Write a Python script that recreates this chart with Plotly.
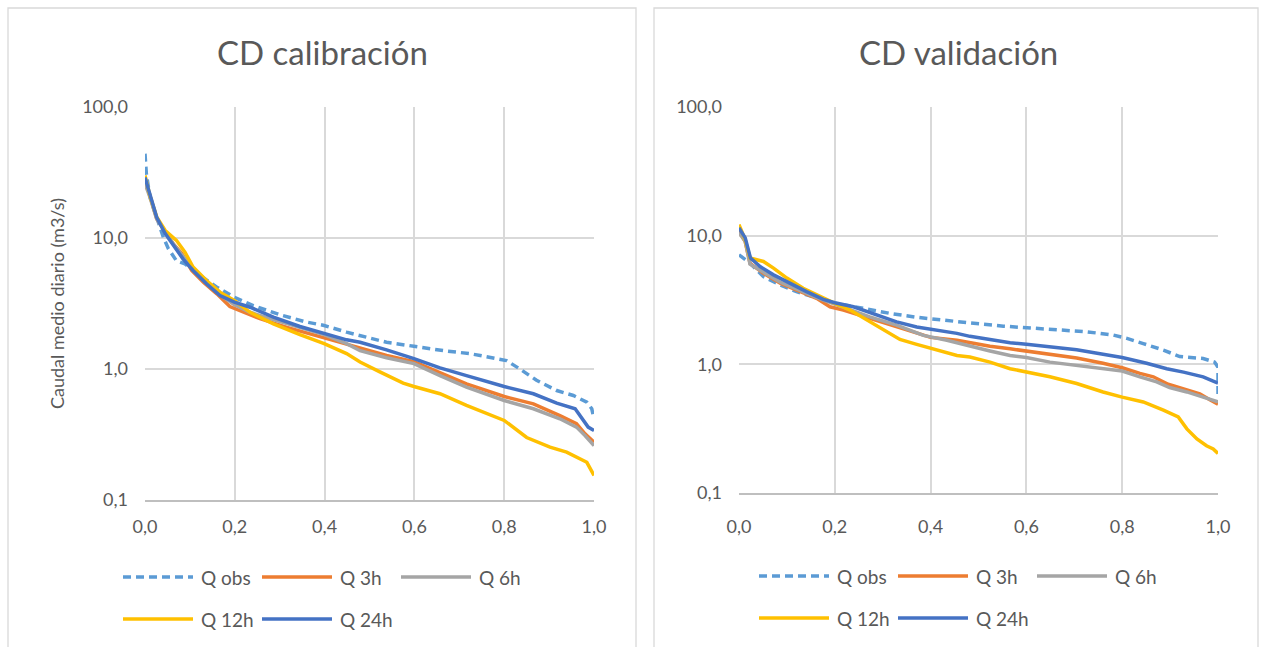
import plotly.graph_objects as go

# ---------------- data ----------------
series_names = ["Q obs", "Q 3h", "Q 6h", "Q 12h", "Q 24h"]

# CD calibración
cal_obs_p = [0.0, 0.003, 0.011, 0.026, 0.041, 0.052, 0.070, 0.089, 0.107, 0.160, 0.199, 0.241, 0.301, 0.360, 0.399, 0.449, 0.501, 0.538, 0.599, 0.665, 0.724, 0.776, 0.805, 0.835, 0.872, 0.917, 0.954, 0.984, 0.995, 1.0]
cal_obs_q = [44, 31, 20.5, 14.4, 10.1, 8.3, 6.7, 6.35, 5.65, 4.21, 3.53, 3.05, 2.59, 2.28, 2.15, 1.91, 1.73, 1.60, 1.49, 1.38, 1.31, 1.22, 1.16, 1.0, 0.82, 0.685, 0.628, 0.558, 0.497, 0.417]

cal_3h_p = [0.0, 0.011, 0.026, 0.045, 0.063, 0.082, 0.104, 0.130, 0.160, 0.189, 0.212, 0.256, 0.316, 0.375, 0.434, 0.479, 0.538, 0.599, 0.657, 0.716, 0.80, 0.865, 0.924, 0.961, 0.98, 1.0]
cal_3h_q = [27, 21, 14, 11.1, 9.0, 7.6, 5.65, 4.6, 3.75, 3.0, 2.8, 2.42, 2.08, 1.82, 1.60, 1.43, 1.27, 1.14, 0.946, 0.77, 0.617, 0.542, 0.44, 0.382, 0.32, 0.276]

cal_6h_p = [0.0, 0.011, 0.026, 0.045, 0.063, 0.085, 0.107, 0.137, 0.167, 0.199, 0.234, 0.286, 0.345, 0.399, 0.449, 0.479, 0.538, 0.599, 0.657, 0.716, 0.80, 0.865, 0.924, 0.961, 0.98, 1.0]
cal_6h_q = [26, 20.5, 14, 11, 9.0, 7.2, 5.8, 4.55, 3.7, 3.1, 2.71, 2.38, 2.08, 1.83, 1.56, 1.38, 1.22, 1.10, 0.89, 0.726, 0.575, 0.497, 0.417, 0.36, 0.31, 0.26]

cal_12h_p = [0.0, 0.011, 0.026, 0.045, 0.07, 0.089, 0.107, 0.137, 0.167, 0.199, 0.234, 0.286, 0.345, 0.399, 0.449, 0.479, 0.523, 0.575, 0.599, 0.657, 0.716, 0.80, 0.85, 0.902, 0.939, 0.984, 1.0]
cal_12h_q = [30, 21, 14.5, 11.4, 9.6, 7.8, 6.0, 4.74, 3.86, 3.33, 2.71, 2.21, 1.83, 1.56, 1.31, 1.13, 0.95, 0.78, 0.735, 0.647, 0.527, 0.405, 0.30, 0.253, 0.232, 0.194, 0.154]

cal_24h_p = [0.0, 0.011, 0.026, 0.045, 0.063, 0.085, 0.107, 0.137, 0.167, 0.199, 0.234, 0.286, 0.345, 0.399, 0.449, 0.479, 0.538, 0.599, 0.657, 0.716, 0.80, 0.865, 0.917, 0.958, 0.975, 0.987, 1.0]
cal_24h_q = [29, 21.7, 14.4, 10.8, 8.8, 6.9, 5.65, 4.47, 3.64, 3.24, 2.96, 2.49, 2.11, 1.86, 1.67, 1.60, 1.40, 1.20, 1.02, 0.89, 0.735, 0.647, 0.548, 0.497, 0.405, 0.36, 0.34]

# CD validación
val_obs_p = [0.0, 0.023, 0.051, 0.086, 0.12, 0.155, 0.2, 0.26, 0.315, 0.371, 0.434, 0.482, 0.552, 0.60, 0.663, 0.726, 0.781, 0.81, 0.844, 0.886, 0.92, 0.969, 0.993, 1.0, 1.0]
val_obs_q = [7.1, 6.1, 4.8, 4.14, 3.67, 3.36, 2.98, 2.72, 2.49, 2.32, 2.21, 2.10, 1.98, 1.92, 1.84, 1.79, 1.69, 1.59, 1.45, 1.29, 1.15, 1.11, 1.04, 0.95, 0.54]

val_3h_p = [0.0, 0.013, 0.023, 0.051, 0.086, 0.12, 0.162, 0.19, 0.218, 0.273, 0.329, 0.371, 0.40, 0.455, 0.482, 0.524, 0.566, 0.60, 0.649, 0.705, 0.76, 0.80, 0.837, 0.865, 0.896, 0.928, 0.962, 0.983, 1.0]
val_3h_q = [10.8, 9.0, 6.1, 5.1, 4.27, 3.78, 3.26, 2.8, 2.64, 2.28, 1.95, 1.74, 1.62, 1.54, 1.47, 1.38, 1.32, 1.27, 1.20, 1.12, 1.02, 0.94, 0.85, 0.80, 0.70, 0.645, 0.59, 0.53, 0.49]

val_6h_p = [0.0, 0.013, 0.023, 0.051, 0.086, 0.12, 0.162, 0.2, 0.273, 0.329, 0.385, 0.434, 0.482, 0.524, 0.566, 0.60, 0.649, 0.705, 0.76, 0.80, 0.837, 0.872, 0.899, 0.935, 0.969, 1.0]
val_6h_q = [10.6, 9.0, 6.0, 5.2, 4.35, 3.85, 3.3, 2.94, 2.34, 2.02, 1.68, 1.54, 1.38, 1.27, 1.17, 1.13, 1.04, 0.98, 0.935, 0.887, 0.80, 0.73, 0.66, 0.61, 0.556, 0.51]

val_12h_p = [0.0, 0.013, 0.023, 0.051, 0.072, 0.10, 0.134, 0.169, 0.2, 0.232, 0.273, 0.308, 0.336, 0.371, 0.40, 0.455, 0.482, 0.524, 0.566, 0.60, 0.649, 0.705, 0.76, 0.80, 0.844, 0.886, 0.917, 0.935, 0.956, 0.976, 0.99, 1.0]
val_12h_q = [12.2, 9.3, 6.7, 6.3, 5.6, 4.68, 3.9, 3.36, 2.98, 2.64, 2.14, 1.79, 1.56, 1.43, 1.33, 1.17, 1.14, 1.04, 0.925, 0.87, 0.80, 0.71, 0.61, 0.556, 0.51, 0.44, 0.39, 0.315, 0.263, 0.233, 0.22, 0.203]

val_24h_p = [0.0, 0.013, 0.024, 0.044, 0.072, 0.106, 0.141, 0.176, 0.2, 0.239, 0.28, 0.329, 0.371, 0.40, 0.455, 0.482, 0.524, 0.566, 0.60, 0.649, 0.705, 0.76, 0.80, 0.851, 0.893, 0.928, 0.969, 0.99, 1.0]
val_24h_q = [11.5, 9.6, 6.7, 5.75, 4.96, 4.27, 3.67, 3.2, 3.01, 2.8, 2.46, 2.14, 1.95, 1.88, 1.74, 1.65, 1.56, 1.47, 1.43, 1.36, 1.30, 1.20, 1.13, 1.02, 0.925, 0.87, 0.80, 0.74, 0.715]

x_tick_vals = [0.0, 0.2, 0.4, 0.6, 0.8, 1.0]
y_tick_vals = [0.1, 1, 10, 100]
panel_titles = ["CD calibración", "CD validación"]
y_title = "Caudal medio diario (m3/s)"

# ---------------- styling ----------------
W, H = 1263, 647
FONT = "Lato"
TXT = "#595959"
GRID = "#d9d9d9"
colors = ["#5B9BD5", "#ED7D31", "#A5A5A5", "#FFC000", "#4472C4"]
dashes = ["8px,5px", "solid", "solid", "solid", "solid"]
LW = 3.5


def fx(px):
    return px / W


def fy(py):
    return 1 - py / H


fig = go.Figure()

cal = [(cal_obs_p, cal_obs_q), (cal_3h_p, cal_3h_q), (cal_6h_p, cal_6h_q),
       (cal_12h_p, cal_12h_q), (cal_24h_p, cal_24h_q)]
val = [(val_obs_p, val_obs_q), (val_3h_p, val_3h_q), (val_6h_p, val_6h_q),
       (val_12h_p, val_12h_q), (val_24h_p, val_24h_q)]

for (px_, qy_), name, c, d in zip(cal, series_names, colors, dashes):
    fig.add_trace(go.Scatter(x=px_, y=qy_, mode="lines", name=name,
                             line=dict(color=c, width=LW, dash=d),
                             xaxis="x", yaxis="y", showlegend=False))
for (px_, qy_), name, c, d in zip(val, series_names, colors, dashes):
    fig.add_trace(go.Scatter(x=px_, y=qy_, mode="lines", name=name,
                             line=dict(color=c, width=LW, dash=d),
                             xaxis="x2", yaxis="y2", showlegend=False))

xcommon = dict(range=[0, 1], tickvals=x_tick_vals, tickformat=".1f",
               showgrid=True, gridcolor=GRID, gridwidth=1.5, zeroline=False,
               showline=True, linecolor="#bfbfbf", linewidth=1.5,
               ticks="", automargin=False,
               tickfont=dict(family=FONT, size=18, color=TXT))
ycommon = dict(type="log", range=[-1, 2], tickvals=y_tick_vals, tickformat=".1f",
               showgrid=True, gridcolor=GRID, gridwidth=1.5, zeroline=False,
               showline=False, ticks="", ticklabelstandoff=16, automargin=False,
               tickfont=dict(family=FONT, size=18, color=TXT))

fig.update_layout(
    width=W, height=H,
    margin=dict(l=0, r=0, t=0, b=0, pad=0, autoexpand=False),
    paper_bgcolor="white", plot_bgcolor="white",
    separators=",.",
    showlegend=False,
    font=dict(family=FONT, color=TXT),
    xaxis=dict(domain=[fx(145), fx(594)], anchor="y", ticklabelstandoff=10, **xcommon),
    yaxis=dict(domain=[fy(500), fy(107)], anchor="x",
               title=dict(text=y_title, standoff=12,
                          font=dict(family=FONT, size=18, color=TXT)),
               **ycommon),
    xaxis2=dict(domain=[fx(739), fx(1218)], anchor="y2", ticklabelstandoff=17, **xcommon),
    yaxis2=dict(domain=[fy(493), fy(107)], anchor="x2", **ycommon),
)

shapes = []
annotations = []
# panel borders (bottom edge lies outside the visible page)
for x0, x1 in [(8, 636), (654, 1258)]:
    shapes.append(dict(type="rect", xref="paper", yref="paper",
                       x0=fx(x0), x1=fx(x1), y0=fy(660), y1=fy(8),
                       line=dict(color=GRID, width=1.3), fillcolor="rgba(0,0,0,0)",
                       layer="below"))
# titles
for t, cx in zip(panel_titles, [322, 958]):
    annotations.append(dict(text=t, xref="paper", yref="paper", x=fx(cx), y=fy(52),
                            xanchor="center", yanchor="middle", showarrow=False,
                            font=dict(family=FONT, size=33, color=TXT)))

# legends (manual, Excel style, long line samples)
for lx, rows in [(123, (577, 619)), (759, (576, 618))]:
    slots = [(lx, rows[0]), (lx + 139, rows[0]), (lx + 278, rows[0]),
             (lx, rows[1]), (lx + 139, rows[1])]
    for (sx, sy), name, c, d in zip(slots, series_names, colors, dashes):
        shapes.append(dict(type="line", xref="paper", yref="paper",
                           x0=fx(sx), x1=fx(sx + 70), y0=fy(sy), y1=fy(sy),
                           line=dict(color=c, width=LW, dash=d)))
        annotations.append(dict(text=name, xref="paper", yref="paper",
                                x=fx(sx + 76), y=fy(sy), xanchor="left", yanchor="middle",
                                showarrow=False,
                                font=dict(family=FONT, size=19, color=TXT)))

fig.update_layout(shapes=shapes, annotations=annotations)

fig.write_html("out.html")
